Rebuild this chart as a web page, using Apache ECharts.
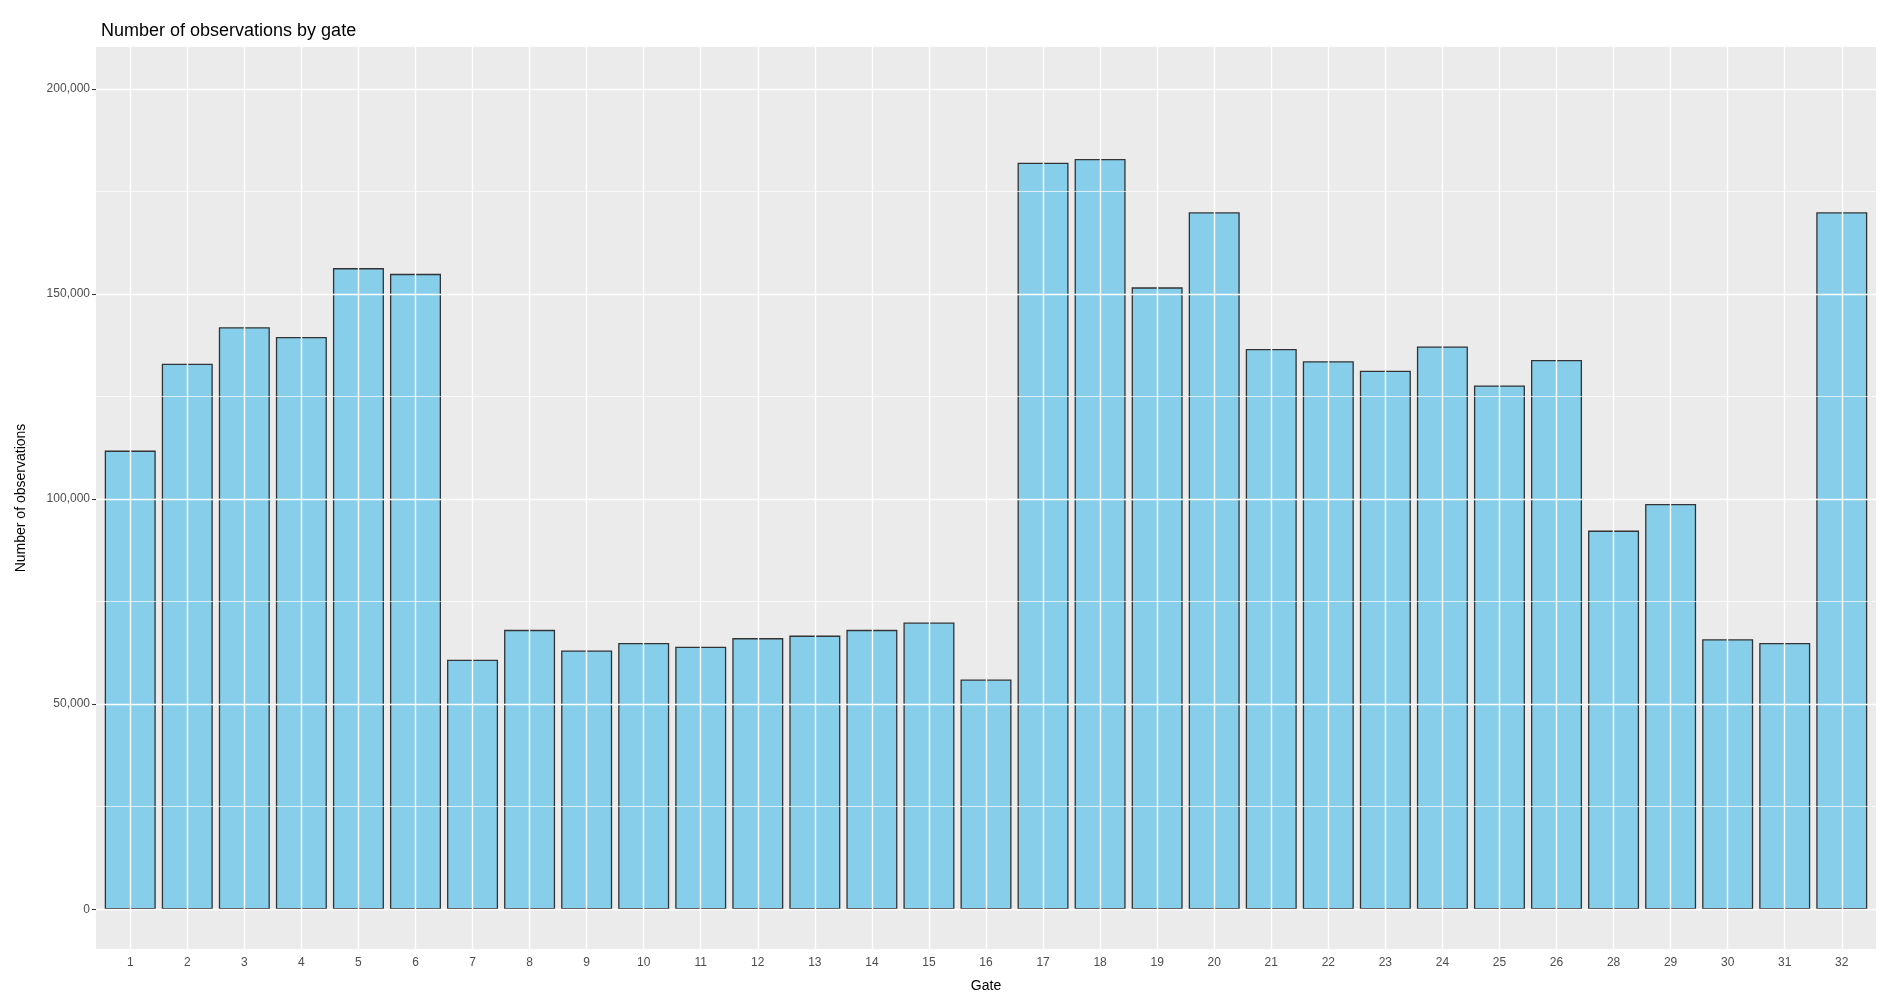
<!DOCTYPE html>
<html><head><meta charset="utf-8">
<script src="https://cdn.jsdelivr.net/npm/echarts@6/dist/echarts.min.js"></script>
<style>html,body{margin:0;padding:0;background:#fff}#c{width:1894px;height:998px}</style>
</head><body><div id="c"></div>
<script>
var gates = ['1','2','3','4','5','6','7','8','9','10','11','12','13','14','15','16','17','18','19','20','21','22','23','24','25','26','28','29','30','31','32'];
var counts = [111800,133000,141900,139500,156300,154900,60800,68100,63100,64900,64000,66100,66700,68100,69900,56000,182000,182900,151600,169900,136600,133600,131300,137200,127700,133900,92300,98800,65800,64900,169900];
var majorTicks = [0,50000,100000,150000,200000];
var minorTicks = [25000,75000,125000,175000];

var positions = gates.map(function(g, i){ return i + 1; });
var chart = echarts.init(document.getElementById('c'));
var gridLines = [];
majorTicks.forEach(function(v){ gridLines.push({yAxis: v, lineStyle: {width: 1.4}}); });
minorTicks.forEach(function(v){ gridLines.push({yAxis: v, lineStyle: {width: 0.7}}); });
positions.forEach(function(p){ gridLines.push({xAxis: p, lineStyle: {width: 1.4}}); });

chart.setOption({
  animation: false,
  textStyle: {fontFamily: 'Liberation Sans, Arial, sans-serif'},
  title: {text: 'Number of observations by gate', left: 96, top: 17,
    textStyle: {fontSize: 18, fontWeight: 'normal', color: '#000'}},
  grid: {left: 96, right: 18, top: 47, bottom: 48, show: true, backgroundColor: '#EBEBEB', borderWidth: 0},
  xAxis: {type: 'value', min: 0.4, max: 31.6,
    name: 'Gate', nameLocation: 'middle', nameGap: 30, nameTextStyle: {fontSize: 14, color: '#000'},
    axisLine: {show: false}, splitLine: {show: false},
    axisTick: {show: true, length: 4, lineStyle: {color: '#333'}, customValues: positions},
    axisLabel: {fontSize: 12, color: '#4D4D4D', margin: 8, customValues: positions,
      formatter: function(v){ return gates[Math.round(v) - 1] || ''; }}},
  yAxis: {type: 'value', min: -9700, max: 210200,
    name: 'Number of observations', nameLocation: 'middle', nameGap: 68, nameTextStyle: {fontSize: 14, color: '#000'},
    axisLine: {show: false}, splitLine: {show: false},
    axisTick: {show: true, length: 4, lineStyle: {color: '#333'}, customValues: majorTicks},
    axisLabel: {fontSize: 12, color: '#4D4D4D', margin: 6, customValues: majorTicks,
      formatter: function(v){ return v.toLocaleString('en-US'); }}},
  series: [
    {type: 'line', data: [], z: 1, silent: true,
      markLine: {silent: true, symbol: 'none', label: {show: false},
        lineStyle: {color: '#fff', type: 'solid'}, data: gridLines}},
    {type: 'bar', z: 3, barWidth: 51,
      data: positions.map(function(p, i){ return [p, counts[i]]; }),
      itemStyle: {color: '#87CEEB', borderColor: '#333', borderWidth: 1.3}}
  ]
});
</script></body></html>
